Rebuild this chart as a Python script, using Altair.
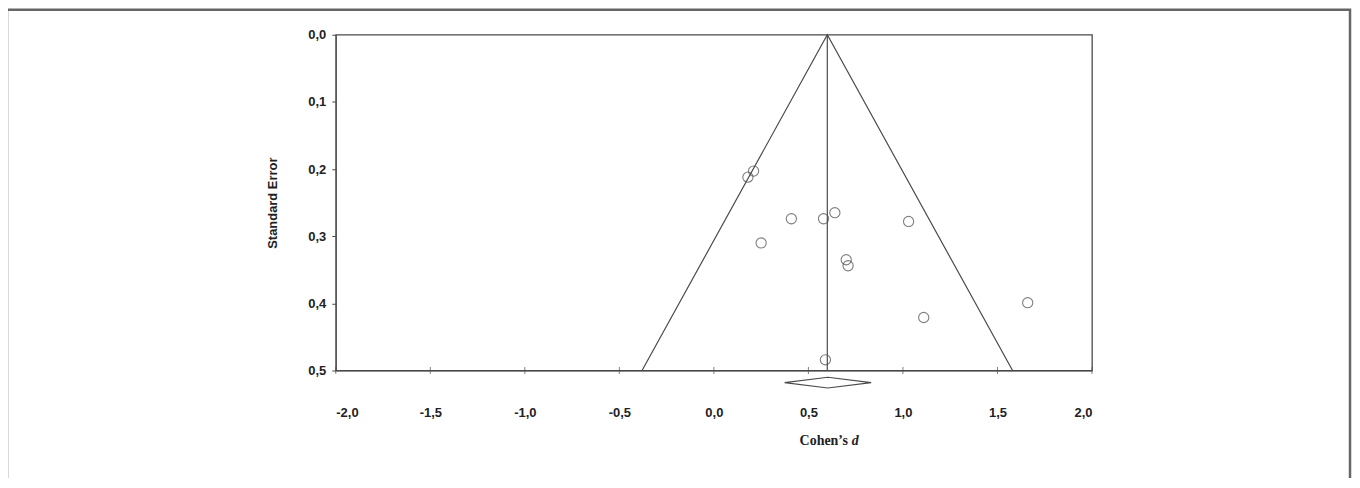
import altair as alt
import pandas as pd

# Study effects (Cohen's d) and standard errors
study_d = [0.21, 0.18, 0.41, 0.58, 0.64, 0.25, 1.03, 0.70, 0.71, 0.59, 1.66, 1.11]
study_se = [0.203, 0.212, 0.274, 0.274, 0.265, 0.310, 0.278, 0.335, 0.344, 0.484, 0.399, 0.421]

# Summary effect and funnel
mean_d = 0.60
funnel_x = [-0.38, 0.60, 1.58]
funnel_y = [0.50, 0.00, 0.50]
center_x = [0.60, 0.60]
center_y = [0.00, 0.50]

# Summary diamond (CI of pooled effect)
diamond_x = [0.374, 0.603, 0.832, 0.603, 0.374]
diamond_y = [0.518, 0.510, 0.518, 0.526, 0.518]

x_ticks = [-2.0, -1.5, -1.0, -0.5, 0.0, 0.5, 1.0, 1.5, 2.0]
y_ticks = [0.0, 0.1, 0.2, 0.3, 0.4, 0.5]

W, H = 759, 337
PAD_L, PAD_T = 329, 26
GRAY = "#4a4a4a"

xs = alt.Scale(domain=[-2, 2], nice=False, zero=False)
ys = alt.Scale(domain=[0, 0.5], reverse=True, nice=False, zero=False)

label_expr = "replace(replace(format(datum.value, '.1f'), '.', ','), '\u2212', '-')"

pts_df = pd.DataFrame({"d": study_d, "se": study_se})
fun_df = pd.DataFrame({"d": funnel_x, "se": funnel_y, "o": list(range(len(funnel_x)))})
cen_df = pd.DataFrame({"d": center_x, "se": center_y, "o": [0, 1]})
dia_df = pd.DataFrame({"d": diamond_x, "se": diamond_y, "o": list(range(len(diamond_x)))})
tick_df = pd.DataFrame({"d": x_ticks})

base_x = alt.X("d:Q", scale=xs,
               axis=alt.Axis(values=x_ticks, labelExpr=label_expr, title=None,
                             labelPadding=36, tickSize=0, labelFontWeight="bold",
                             labelFontSize=13, labelFont="Liberation Sans",
                             labelColor="#222", domainColor=GRAY, grid=False))
base_y = alt.Y("se:Q", scale=ys,
               axis=alt.Axis(values=y_ticks, labelExpr=label_expr, title="Standard Error",
                             tickSize=4, tickColor=GRAY, labelPadding=6,
                             labelFontWeight="bold", labelFontSize=13,
                             labelFont="Liberation Sans", labelColor="#222",
                             titleFont="Liberation Sans", titleFontSize=13,
                             titleFontWeight="bold", titleColor="#222",
                             titlePadding=28, domainColor=GRAY, grid=False))

funnel = alt.Chart(fun_df).mark_line(color=GRAY, strokeWidth=1.2).encode(
    x=base_x, y=base_y, order="o:Q")
center = alt.Chart(cen_df).mark_line(color=GRAY, strokeWidth=1.2).encode(
    x="d:Q", y="se:Q", order="o:Q")
diamond = alt.Chart(dia_df).mark_line(color=GRAY, strokeWidth=1.1).encode(
    x="d:Q", y="se:Q", order="o:Q")
points = alt.Chart(pts_df).mark_point(shape="circle", filled=False, size=105,
                                      color=GRAY, strokeWidth=1.1).encode(
    x="d:Q", y="se:Q")
xticks = alt.Chart(tick_df).mark_tick(orient="vertical", size=7, thickness=1,
                                      color=GRAY).encode(
    x="d:Q", y=alt.value(H))

title_bold = alt.Chart(pd.DataFrame({"t": ["Cohen\u2019s"]})).mark_text(
    font="Liberation Serif", fontSize=14, fontWeight="bold", align="right",
    baseline="middle", color="#222").encode(
    text="t:N", x=alt.value(514), y=alt.value(H + 71))
title_ital = alt.Chart(pd.DataFrame({"t": ["d"]})).mark_text(
    font="Liberation Serif", fontSize=14, fontWeight="bold", fontStyle="italic",
    align="left", baseline="middle", color="#222").encode(
    text="t:N", x=alt.value(518), y=alt.value(H + 71))

frame = alt.Chart(pd.DataFrame({"a": [0]})).mark_rect(
    filled=False, stroke="#666", strokeWidth=2.5).encode(
    x=alt.value(7 - 337), x2=alt.value(1355 - 337),
    y=alt.value(9 - 34), y2=alt.value(H + 200))

chart = alt.layer(funnel, center, points, diamond, xticks, title_bold, title_ital, frame).properties(
    width=W, height=H,
    autosize=alt.AutoSizeParams(type="none"),
    padding={"left": PAD_L, "top": PAD_T, "right": 1349 - PAD_L - W, "bottom": 470 - PAD_T - H},
    background="white",
).configure_view(stroke=GRAY, strokeWidth=1.3)

chart.save("out.html", embed_options={"renderer": "svg", "actions": False})
